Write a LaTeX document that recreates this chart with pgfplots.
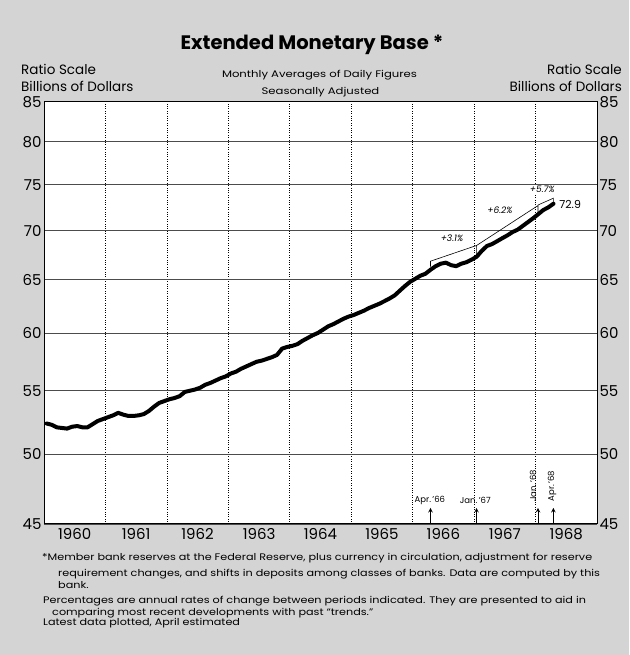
\documentclass[border=0pt]{standalone}
\usepackage{pgfplots}
\pgfplotsset{compat=1.18}
\usepackage{fontspec}
\setmainfont{Poppins}
\newcommand\fnfont{\fontsize{9.5}{10}\selectfont}
\newcommand\subfont{\fontsize{9.5}{10}\selectfont}
\newlength\fnw
\newlength\subw
\pgfplotstableread{
x y
1960.042 52.35
1960.125 52.25
1960.208 52.05
1960.292 52.0
1960.375 51.95
1960.458 52.1
1960.542 52.15
1960.625 52.05
1960.708 52.05
1960.792 52.3
1960.875 52.55
1960.958 52.7
1961.042 52.85
1961.125 53.0
1961.208 53.2
1961.292 53.05
1961.375 52.95
1961.458 52.95
1961.542 53.0
1961.625 53.1
1961.708 53.35
1961.792 53.7
1961.875 54.0
1961.958 54.15
1962.042 54.3
1962.125 54.4
1962.208 54.55
1962.292 54.9
1962.375 55.0
1962.458 55.1
1962.542 55.25
1962.625 55.5
1962.708 55.65
1962.792 55.85
1962.875 56.05
1962.958 56.2
1963.042 56.45
1963.125 56.6
1963.208 56.85
1963.292 57.05
1963.375 57.25
1963.458 57.45
1963.542 57.55
1963.625 57.7
1963.708 57.85
1963.792 58.05
1963.875 58.6
1963.958 58.75
1964.042 58.85
1964.125 59.0
1964.208 59.3
1964.292 59.55
1964.375 59.8
1964.458 60.0
1964.542 60.3
1964.625 60.6
1964.708 60.8
1964.792 61.05
1964.875 61.3
1964.958 61.5
1965.042 61.65
1965.125 61.85
1965.208 62.05
1965.292 62.3
1965.375 62.5
1965.458 62.7
1965.542 62.95
1965.625 63.2
1965.708 63.5
1965.792 63.95
1965.875 64.4
1965.958 64.8
1966.042 65.1
1966.125 65.4
1966.208 65.6
1966.292 66.0
1966.375 66.35
1966.458 66.6
1966.542 66.7
1966.625 66.45
1966.708 66.35
1966.792 66.6
1966.875 66.75
1966.958 67.0
1967.042 67.3
1967.125 67.9
1967.208 68.4
1967.292 68.6
1967.375 68.9
1967.458 69.2
1967.542 69.5
1967.625 69.85
1967.708 70.1
1967.792 70.5
1967.875 70.9
1967.958 71.3
1968.042 71.75
1968.125 72.2
1968.208 72.5
1968.292 72.9
}\basedata
\begin{document}
\settowidth\fnw{\fnfont *Member bank reserves at the Federal Reserve, plus currency in circulation, adjustment for reserve}%
\pgfmathsetmacro\fnscale{550pt/\fnw}%
\settowidth\subw{\subfont Monthly Averages of Daily Figures}%
\pgfmathsetmacro\subscale{195pt/\subw}%
\begin{tikzpicture}[x=1pt,y=1pt]
\fill[black!17] (0,0) rectangle (629,-655);
\useasboundingbox (0,0) rectangle (629,-655);
% titles
\node[anchor=base,inner sep=0pt,font=\fontsize{19.5}{20}\selectfont\bfseries] at (312,-50) {Extended Monetary Base *};
\node[anchor=base west,inner sep=0pt,font=\fontsize{13.5}{14}\selectfont] at (21,-75) {Ratio Scale};
\node[anchor=base west,inner sep=0pt,font=\fontsize{13.5}{14}\selectfont] at (21,-91.7) {Billions of Dollars};
\node[anchor=base east,inner sep=0pt,font=\fontsize{13.5}{14}\selectfont] at (622,-75) {Ratio Scale};
\node[anchor=base east,inner sep=0pt,font=\fontsize{13.5}{14}\selectfont] at (622,-91.7) {Billions of Dollars};
\node[anchor=base,inner sep=0pt,font=\subfont] at (319.5,-78) {\scalebox{\subscale}[1]{Monthly Averages of Daily Figures}};
\node[anchor=base,inner sep=0pt,font=\subfont] at (320.5,-95) {\scalebox{\subscale}[1]{Seasonally Adjusted}};
% main axis
\begin{axis}[
  at={(44pt,-524pt)}, anchor=south west,
  scale only axis, width=553pt, height=422.3pt,
  xmin=1960, xmax=1969,
  ymode=log, ymin=45, ymax=85,
  axis background/.style={fill=white},
  axis line style={black, line width=1pt},
  ytick={45,50,55,60,65,70,75,80,85},
  yticklabels={45,50,55,60,65,70,75,80,85},
  yticklabel style={font=\fontsize{15}{15}\selectfont, xshift=1pt},
  xtick={1960.5,1961.5,1962.5,1963.5,1964.5,1965.5,1966.5,1967.5,1968.5},
  xticklabels={1960,1961,1962,1963,1964,1965,1966,1967,1968},
  xticklabel style={font=\fontsize{15}{15}\selectfont, yshift=-1pt},
  minor xtick={1961,1962,1963,1964,1965,1966,1967,1968},
  major tick length=0pt, minor tick length=0pt,
  ymajorgrids, xminorgrids,
  major grid style={black!70, line width=0.8pt},
  minor grid style={black, dotted, line width=0.7pt},
  clip=false,
]
\addplot[black, line width=4pt, line join=round, line cap=round] table {\basedata};
% trend lines
\addplot[black, line width=0.6pt] coordinates {(1966.29,66.3) (1966.29,66.85) (1967.04,68.45) (1967.04,67.35)};
\addplot[black, line width=0.6pt] coordinates {(1967.04,68.45) (1968.04,72.7) (1968.04,72.0)};
\addplot[black, line width=0.6pt] coordinates {(1968.04,72.75) (1968.29,73.5) (1968.29,73.0)};
\node[font=\fontsize{9}{10}\selectfont\itshape] at (axis cs:1966.64,69.2) {+3.1\%};
\node[font=\fontsize{9}{10}\selectfont\itshape] at (axis cs:1967.42,72.2) {+6.2\%};
\node[font=\fontsize{9}{10}\selectfont\itshape, fill=white, inner sep=1.5pt] at (axis cs:1968.11,74.45) {+5.7\%};
\node[anchor=west, font=\fontsize{11}{11}\selectfont] at (axis cs:1968.33,72.8) {72.9};
% arrows
\draw[-stealth, line width=1pt] (axis cs:1966.29,45) -- (axis cs:1966.29,46.1);
\draw[-stealth, line width=1pt] (axis cs:1967.04,45) -- (axis cs:1967.04,46.1);
\draw[-stealth, line width=1pt] (axis cs:1968.04,45) -- (axis cs:1968.04,46.1);
\draw[-stealth, line width=1pt] (axis cs:1968.29,45) -- (axis cs:1968.29,46.1);
\node[font=\fontsize{8.5}{9}\selectfont] at (axis cs:1966.28,46.65) {Apr.\,’66};
\node[font=\fontsize{8.5}{9}\selectfont] at (axis cs:1967.02,46.65) {Jan.\,’67};
\node[font=\fontsize{8.5}{9}\selectfont, rotate=90] at (axis cs:1967.96,47.65) {Jan.\,’68};
\node[font=\fontsize{8.5}{9}\selectfont, rotate=90] at (axis cs:1968.27,47.65) {Apr.\,’68};
\end{axis}
% right labels axis
\begin{axis}[
  at={(44pt,-524pt)}, anchor=south west,
  scale only axis, width=553pt, height=422.3pt,
  xmin=1960, xmax=1969,
  ymode=log, ymin=45, ymax=85,
  axis line style={draw=none},
  xtick=\empty,
  ytick={45,50,55,60,65,70,75,80,85},
  yticklabels={45,50,55,60,65,70,75,80,85},
  yticklabel pos=right,
  yticklabel style={font=\fontsize{15}{15}\selectfont, xshift=-1pt},
  major tick length=0pt,
]
\end{axis}
% footnotes
\node[anchor=base west,inner sep=0pt,font=\fnfont] at (42,-560) {\scalebox{\fnscale}[1]{*Member bank reserves at the Federal Reserve, plus currency in circulation, adjustment for reserve}};
\node[anchor=base west,inner sep=0pt,font=\fnfont] at (58,-576) {\scalebox{\fnscale}[1]{requirement changes, and shifts in deposits among classes of banks. Data are computed by this}};
\node[anchor=base west,inner sep=0pt,font=\fnfont] at (58,-588) {\scalebox{\fnscale}[1]{bank.}};
\node[anchor=base west,inner sep=0pt,font=\fnfont] at (43,-603) {\scalebox{\fnscale}[1]{Percentages are annual rates of change between periods indicated. They are presented to aid in}};
\node[anchor=base west,inner sep=0pt,font=\fnfont] at (52,-615) {\scalebox{\fnscale}[1]{comparing most recent developments with past “trends.”}};
\node[anchor=base west,inner sep=0pt,font=\fnfont] at (43,-625) {\scalebox{\fnscale}[1]{Latest data plotted, April estimated}};
\end{tikzpicture}
\end{document}
